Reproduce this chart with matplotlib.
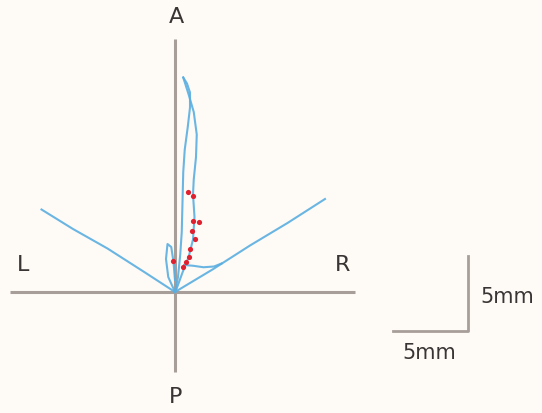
import numpy as np
import matplotlib.pyplot as plt

# trajectory coordinates in mm, origin at the crossing of the A-P / L-R axes
left_x = [0.0, -2.0, -4.5, -6.8, -8.9]
left_y = [0.0, 1.3, 2.9, 4.2, 5.5]

right_x = [0.0, 2.5, 5.0, 7.5, 10.0]
right_y = [0.0, 1.5, 3.1, 4.6, 6.2]

branch_x = [0.6, 1.2, 1.9, 2.6, 3.1]
branch_y = [1.8, 1.75, 1.65, 1.7, 1.9]

up_x = [0.0, 0.2, 0.35, 0.45, 0.5, 0.55, 0.65, 0.85, 1.0, 1.0, 0.8, 0.55]
up_y = [0.0, 1.0, 2.5, 4.0, 6.0, 8.0, 9.5, 11.0, 12.3, 13.3, 13.9, 14.3]

down_x = [0.55, 0.9, 1.25, 1.45, 1.4, 1.25, 1.2, 1.3, 1.2, 0.9, 0.5, 0.1]
down_y = [14.3, 13.2, 12.0, 10.5, 9.0, 7.5, 6.5, 5.0, 3.5, 2.3, 1.3, 0.2]

loop_x = [0.0, -0.45, -0.6, -0.5, -0.25, -0.1, 0.0]
loop_y = [0.0, 1.0, 2.2, 3.2, 3.0, 2.0, 0.8]

# red marks along the ascending trajectory
red_x = [0.87, 1.2, 1.2, 1.6, 1.13, 1.33, 1.0, 0.93, 0.73, 0.53, -0.13]
red_y = [6.67, 6.4, 4.73, 4.67, 4.07, 3.53, 2.87, 2.33, 2.0, 1.67, 2.07]

fig = plt.figure(figsize=(5.42, 4.14), dpi=100, facecolor='#fefbf7')
ax = fig.add_axes([0, 0, 1, 1])
ax.set_facecolor('#fefbf7')
ax.set_xlim(-175 / 15, 367 / 15)
ax.set_ylim(-121 / 15, 293 / 15)
ax.axis('off')

axis_col = '#a89e99'
blue = '#5aaee0'

# anatomical axes
ax.plot([-11.0, 12.0], [0, 0], color=axis_col, lw=2.2, solid_capstyle='butt', zorder=1)
ax.plot([0, 0], [-5.3, 16.9], color=axis_col, lw=2.2, solid_capstyle='butt', zorder=1)

# trajectories
for xs, ys in [(left_x, left_y), (right_x, right_y), (branch_x, branch_y),
               (up_x, up_y), (down_x, down_y), (loop_x, loop_y)]:
    ax.plot(xs, ys, color=blue, lw=1.5, alpha=0.9, zorder=2)

ax.scatter(red_x, red_y, s=14, color='#e0202e', zorder=3, linewidths=0)

# axis labels
txt = dict(fontsize=16, color='#3a3535', family='DejaVu Sans', ha='center', va='center')
ax.text(0.07, 18.4, 'A', **txt)
ax.text(0.07, -6.93, 'P', **txt)
ax.text(-10.13, 1.87, 'L', **txt)
ax.text(11.2, 1.87, 'R', **txt)

# 5 mm scale bar
ax.plot([14.5, 19.5, 19.5], [-2.6, -2.6, 2.4], color=axis_col, lw=2.0, zorder=1)
txt['fontsize'] = 15
ax.text(22.13, -0.27, '5mm', **txt)
ax.text(16.93, -4.0, '5mm', **txt)

fig.savefig('out.png', dpi=100, facecolor=fig.get_facecolor())
